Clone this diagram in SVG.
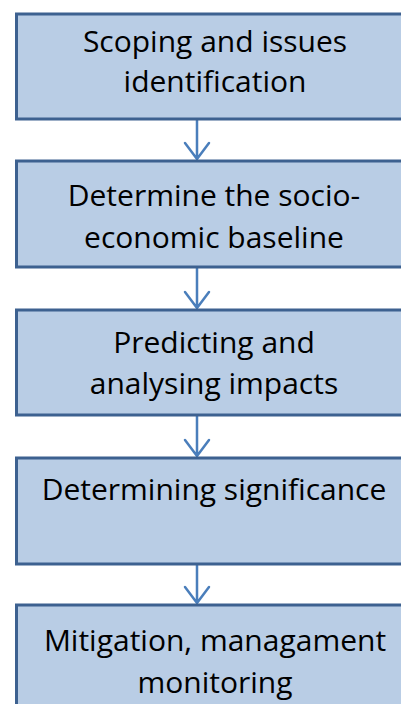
<svg xmlns="http://www.w3.org/2000/svg" width="401" height="704" viewBox="0 0 401 704">
  <style>
    .box { fill: #b9cde5; stroke: #3d6190; stroke-width: 3; }
    .label { font-family: "Open Sans", Lato, sans-serif; font-size: 30px; fill: #000; text-anchor: middle; }
    .link { stroke: #4a7ebb; stroke-width: 2.5; fill: none; stroke-linecap: round; stroke-linejoin: round; }
  </style>
  <rect width="401" height="704" fill="#fff"/>

  <g id="connectors">
    <path class="link" d="M197 120 V159 M185 143 L197 159 L209 143"/>
    <path class="link" d="M197 268 V308 M185 292 L197 308 L209 292"/>
    <path class="link" d="M197 416 V456 M185 440 L197 456 L209 440"/>
    <path class="link" d="M197 565 V603 M185 587 L197 603 L209 587"/>
  </g>

  <g id="scoping">
    <rect class="box" x="16.5" y="14" width="400" height="105"/>
    <text class="label" x="215" y="52">Scoping and issues</text>
    <text class="label" x="215" y="92">identification</text>
  </g>

  <g id="baseline">
    <rect class="box" x="16.5" y="161" width="400" height="106"/>
    <text class="label" x="214" y="206">Determine the socio-</text>
    <text class="label" x="214" y="248">economic baseline</text>
  </g>

  <g id="impacts">
    <rect class="box" x="16.5" y="310" width="400" height="105"/>
    <text class="label" x="214" y="353">Predicting and</text>
    <text class="label" x="214" y="394">analysing impacts</text>
  </g>

  <g id="significance">
    <rect class="box" x="16.5" y="458" width="400" height="106"/>
    <text class="label" x="214" y="500">Determining significance</text>
  </g>

  <g id="mitigation">
    <rect class="box" x="16.5" y="605" width="400" height="106"/>
    <text class="label" x="215" y="651">Mitigation, managament</text>
    <text class="label" x="215" y="693">monitoring</text>
  </g>
</svg>
